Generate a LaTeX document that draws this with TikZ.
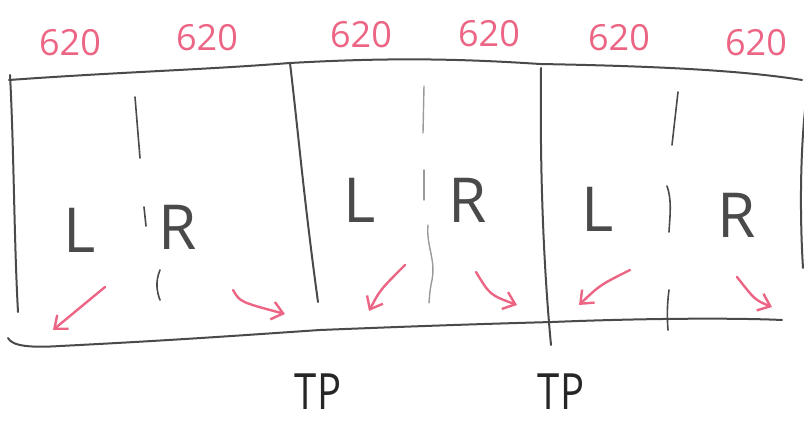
\documentclass[tikz,border=0pt]{standalone}
\usepackage{fontspec}
\setmainfont{Open Sans}
\usetikzlibrary{arrows.meta}
\definecolor{pinkink}{HTML}{EC6584}
\definecolor{pencil}{HTML}{4A4A4A}
\definecolor{lightpencil}{HTML}{9A9A9A}
\tikzset{
  frame/.style={draw=pencil, line width=2pt, line cap=round},
  midline/.style={draw=pencil, line width=1.6pt, line cap=round},
  faintline/.style={draw=lightpencil, line width=1.4pt, line cap=round},
  pinkarrow/.style={draw=pinkink, line width=2.4pt, line cap=round, -{Straight Barb[length=11pt,width=18pt,line width=2.4pt]}},
  dim/.style={text=pinkink, font=\fontsize{36}{36}\selectfont, inner sep=0pt},
  letter/.style={text=pencil, font=\fontsize{62}{62}\selectfont, inner sep=0pt},
  tplabel/.style={text=black!85, font=\fontsize{50}{50}\selectfont, inner sep=0pt, xscale=0.8}
}
\begin{document}
\begin{tikzpicture}[x=1pt,y=-1pt]
\useasboundingbox (0,0) rectangle (804,425);
% corners / frame points
\coordinate (tl) at (9,80);
\coordinate (t1) at (290,63);
\coordinate (t2) at (540,64);
\coordinate (tr) at (802,80);
\coordinate (bl) at (8,338);
\coordinate (b1) at (320,330);
\coordinate (b2) at (552,322);
\coordinate (br) at (782,320);
% top line
\draw[frame] (tl) .. controls (120,72) and (200,70) .. (t1) .. controls (380,58) and (450,58) .. (t2) .. controls (650,66) and (740,70) .. (tr);
% bottom line
\draw[frame] (bl) .. controls (12,346) and (30,348) .. (60,346) .. controls (180,340) and (260,334) .. (b1) .. controls (420,326) and (480,324) .. (b2) .. controls (650,318) and (740,318) .. (br);
% left border
\draw[frame] (10,75) .. controls (14,150) and (14,240) .. (18,312);
% divider 1
\draw[frame] (t1) .. controls (298,130) and (304,200) .. (318,302);
% divider 2
\draw[frame] (541,68) .. controls (540,150) and (542,250) .. (551,345);
% right border
\draw[frame] (805,110) .. controls (800,160) and (800,220) .. (803,268);
% middle lines cell 1
\draw[midline] (135,97) -- (140,158);
\draw[midline] (144,207) -- (146,226);
\draw[midline] (160,270) .. controls (155,282) and (157,292) .. (160,300);
% middle lines cell 2
\draw[faintline] (424,86) -- (423,133);
\draw[faintline] (424,170) -- (424,200);
\draw[faintline] (428,225) .. controls (426,245) and (436,260) .. (432,280) .. controls (430,290) .. (429,303);
% middle lines cell 3
\draw[midline] (678,92) -- (672,145);
\draw[midline] (667,186) .. controls (672,200) and (670,215) .. (669,232);
\draw[midline] (669,290) .. controls (667,305) and (667,318) .. (668,330);
% labels 620
\node[dim] (d1) at (70,43) {620};
\node[dim] (d2) at (207,38) {620};
\node[dim] (d3) at (361,35) {620};
\node[dim] (d4) at (489,34) {620};
\node[dim] (d5) at (619,38) {620};
\node[dim] (d6) at (756,43) {620};
% L and R
\node[letter] (l1) at (80,230) {L};
\node[letter] (r1) at (178,227) {R};
\node[letter] (l2) at (360,200) {L};
\node[letter] (r2) at (468,200) {R};
\node[letter] (l3) at (598,209) {L};
\node[letter] (r3) at (737,215) {R};
% TP
\node[tplabel] (tp1) at (318,392) {TP};
\node[tplabel] (tp2) at (561,392) {TP};
% pink arrows
\coordinate (a1s) at (105,287); \coordinate (a1e) at (53,330);
\coordinate (a2s) at (233,290); \coordinate (a2e) at (285,314);
\coordinate (a3s) at (405,265); \coordinate (a3e) at (369,311);
\coordinate (a4s) at (476,272); \coordinate (a4e) at (517,305);
\coordinate (a5s) at (630,270); \coordinate (a5e) at (579,305);
\coordinate (a6s) at (737,277); \coordinate (a6e) at (772,307);
\draw[pinkarrow] (a1s) -- (a1e);
\draw[pinkarrow] (a2s) .. controls (240,302) .. (a2e);
\draw[pinkarrow] (a3s) .. controls (380,290) .. (a3e);
\draw[pinkarrow] (a4s) .. controls (490,295) .. (a4e);
\draw[pinkarrow] (a5s) .. controls (600,285) .. (a5e);
\draw[pinkarrow] (a6s) .. controls (755,300) .. (a6e);
\end{tikzpicture}
\end{document}
